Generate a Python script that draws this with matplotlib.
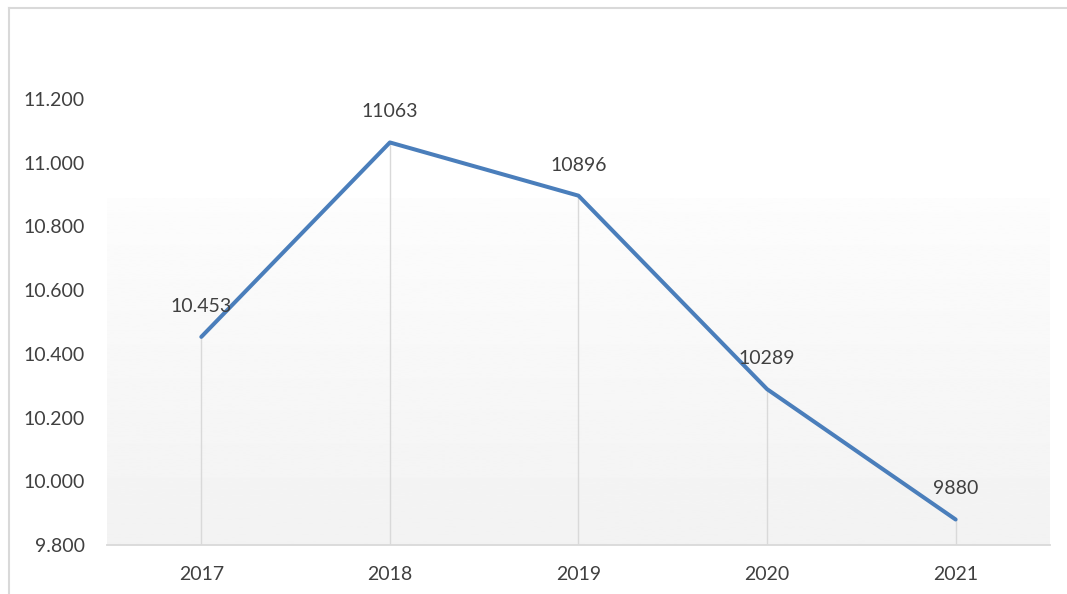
import numpy as np
import matplotlib.pyplot as plt
from matplotlib.lines import Line2D

plt.rcParams['font.family'] = ['Lato', 'DejaVu Sans']

years = ['2017', '2018', '2019', '2020', '2021']
values = [10453, 11063, 10896, 10289, 9880]
value_labels = ['10.453', '11063', '10896', '10289', '9880']
yticks = [9800, 10000, 10200, 10400, 10600, 10800, 11000, 11200]
ytick_labels = ['9.800', '10.000', '10.200', '10.400', '10.600', '10.800', '11.000', '11.200']

txt = '#404040'
fig = plt.figure(figsize=(10.67, 5.94), dpi=100)
ax = fig.add_axes([0.1003, 0.0825, 0.8837, 0.8585])

x = np.arange(len(years))
ax.set_xlim(-0.5, len(years) - 0.5)
ax.set_ylim(9800, 11400)

# gradient background (lower part of plot area)
grad = np.linspace(0.949, 0.99, 256).reshape(-1, 1)
ax.imshow(grad, cmap='gray', vmin=0, vmax=1, aspect='auto', origin='lower',
          extent=(0, 1, 0, 0.68), transform=ax.transAxes, zorder=0)

# drop lines
ax.vlines(x, 9800, values, color='#d9d9d9', lw=1, zorder=1)
ax.plot(x, values, color='#4a7ebb', lw=2.9, solid_capstyle='round', zorder=3)

for xi, v, lab in zip(x, values, value_labels):
    ax.annotate(lab, (xi, v), xytext=(0, 22), textcoords='offset points',
                ha='center', va='center', fontsize=14, color=txt, zorder=4)

ax.set_xticks(x)
ax.set_xticklabels(years, fontsize=14, color=txt)
ax.set_yticks(yticks)
ax.set_yticklabels(ytick_labels, fontsize=14, color=txt)
ax.tick_params(axis='x', length=0, pad=15)
ax.tick_params(axis='y', length=0, pad=16)

for s in ['top', 'right', 'left']:
    ax.spines[s].set_visible(False)
ax.spines['bottom'].set_color('#d9d9d9')
ax.spines['bottom'].set_linewidth(1.3)

# chart frame
fig.add_artist(Line2D([9 / 1067, 1], [1 - 8 / 594, 1 - 8 / 594], color='#d9d9d9', lw=1.5))
fig.add_artist(Line2D([9 / 1067, 9 / 1067], [0, 1 - 8 / 594], color='#d9d9d9', lw=1.5))

fig.savefig('out.png', dpi=100)
